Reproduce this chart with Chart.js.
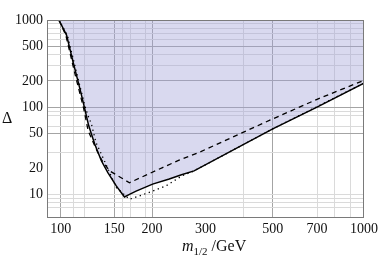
<!DOCTYPE html>
<html>
<head>
<meta charset="utf-8">
<script src="https://cdn.jsdelivr.net/npm/chart.js@4/dist/chart.umd.min.js"></script>
<style>
  html, body { margin: 0; padding: 0; background: #fff; }
  #wrap { width: 382px; height: 262px; }
</style>
</head>
<body>
<div id="wrap"><canvas id="c" width="382" height="262"></canvas></div>
<script>
// Δ vs m_{1/2}: solid (bound of shaded region), dashed and dotted curves
const solidX = [98.5, 104.4, 107.0, 109.7, 112.6, 116.3, 119.9, 123.5, 129.3, 136.0, 142.9, 152.3, 162.1, 168.4, 177.1, 200.7, 227.8, 250, 275, 500, 700, 1000];
const solidY = [1000, 671, 472, 330, 232, 149, 95.8, 61.5, 37.8, 24.3, 17.8, 12.5, 9.33, 10.0, 10.9, 13.1, 15.0, 16.8, 18.6, 56.4, 100, 189];

const dashedX = [98.5, 103.8, 111.6, 119.0, 123.0, 130.7, 136.8, 144.8, 168.4, 216.5, 245.5, 285.6, 500, 700, 1000];
const dashedY = [1000, 671, 232, 95.8, 53.9, 33.1, 24.3, 18.6, 13.6, 20.3, 24.7, 30.3, 73.4, 123, 203];

const dottedX = [98.5, 105.0, 115.4, 119.9, 122.9, 126.1, 130.5, 137.6, 152.3, 168.4, 181.5, 200.7, 222.2, 250, 275, 500, 1000];
const dottedY = [1000, 671, 178, 104.6, 80.2, 64.4, 39.5, 26.5, 12.0, 8.78, 9.58, 10.9, 12.5, 16.2, 18.6, 56.4, 189];

// axes
const xLabels = [100, 150, 200, 300, 500, 700, 1000];
const xGrid = [100, 110, 120, 150, 160, 170, 190, 200, 400, 500, 700, 800, 900];
const xMajor = [100, 150, 200, 500];
const yLabels = [10, 20, 50, 100, 200, 500, 1000];
const yGrid = [7, 8, 9, 10, 30, 50, 60, 80, 90, 100, 200, 300, 400, 500, 600, 700, 800, 900];
const yMajor = [50, 100, 200, 500];

const FONT = 'Liberation Serif';
const pts = (xs, ys) => xs.map((x, i) => ({ x, y: ys[i] }));
const uniq = (a, b) => Array.from(new Set(a.concat(b))).sort((p, q) => p - q);

function gridColor(major, grid) {
	return (ctx) => {
		const v = ctx.tick && ctx.tick.value;
		if (major.includes(v)) return '#a4a4a4';
		if (grid.includes(v)) return '#dadada';
		return 'rgba(0,0,0,0)';
	};
}

// frame + axis titles
const decor = {
	id: 'decor',
	afterDraw(chart) {
		const { ctx, chartArea: a } = chart;
		ctx.save();
		ctx.strokeStyle = '#7a7a7a';
		ctx.lineWidth = 1;
		ctx.strokeRect(a.left + 0.5, a.top + 0.5, a.right - a.left - 1, a.bottom - a.top);

		ctx.fillStyle = '#111';
		ctx.textBaseline = 'alphabetic';
		ctx.textAlign = 'left';
		ctx.font = '16px "' + FONT + '"';
		ctx.fillText('\u0394', 2, 123);

		let x = 182;
		ctx.font = 'italic 16px "' + FONT + '"';
		ctx.fillText('m', x, 251);
		x += ctx.measureText('m').width;
		ctx.font = '11px "' + FONT + '"';
		ctx.fillText('1/2', x, 255);
		x += ctx.measureText('1/2').width;
		ctx.font = '16px "' + FONT + '"';
		ctx.fillText(' /GeV', x, 251);
		ctx.restore();
	}
};

new Chart(document.getElementById('c'), {
	type: 'scatter',
	data: {
		datasets: [
			{
				label: 'solid',
				data: pts(solidX, solidY),
				showLine: true,
				borderColor: '#000',
				borderWidth: 1.5,
				pointRadius: 0,
				tension: 0,
				fill: 'end',
				backgroundColor: 'rgba(160,160,215,0.4)',
			},
			{
				label: 'dashed',
				data: pts(dashedX, dashedY),
				showLine: true,
				borderColor: '#000',
				borderWidth: 1.3,
				borderDash: [5, 4],
				pointRadius: 0,
				tension: 0,
				fill: false,
			},
			{
				label: 'dotted',
				data: pts(dottedX, dottedY),
				showLine: true,
				borderColor: '#000',
				borderWidth: 1.3,
				borderDash: [1.3, 3.5],
				pointRadius: 0,
				tension: 0,
				fill: false,
			},
		],
	},
	options: {
		responsive: false,
		animation: false,
		layout: { padding: { top: 20, right: 16, left: 0, bottom: 0 } },
		plugins: {
			legend: { display: false },
			tooltip: { enabled: false },
			filler: { drawTime: 'beforeDatasetsDraw' },
		},
		scales: {
			x: {
				type: 'logarithmic',
				min: 90,
				max: 1000,
				afterBuildTicks: (axis) => { axis.ticks = uniq(xGrid, xLabels).map((v) => ({ value: v })); },
				afterFit: (axis) => { axis.height = 45; },
				ticks: {
					autoSkip: false,
					maxRotation: 0,
					padding: 4,
					color: '#111',
					font: { family: FONT, size: 14 },
					callback: (v) => (xLabels.includes(v) ? String(v) : ''),
				},
				grid: { color: gridColor(xMajor, xGrid), drawTicks: false },
				border: { display: false },
			},
			y: {
				type: 'logarithmic',
				min: 5.5,
				max: 1000,
				afterBuildTicks: (axis) => { axis.ticks = uniq(yGrid, yLabels).map((v) => ({ value: v })); },
				afterFit: (axis) => { axis.width = 47; },
				ticks: {
					autoSkip: false,
					padding: 4,
					color: '#111',
					font: { family: FONT, size: 14 },
					callback: (v) => (yLabels.includes(v) ? String(v) : ''),
				},
				grid: { color: gridColor(yMajor, yGrid), drawTicks: false },
				border: { display: false },
			},
		},
	},
	plugins: [decor],
});
</script>
</body>
</html>
